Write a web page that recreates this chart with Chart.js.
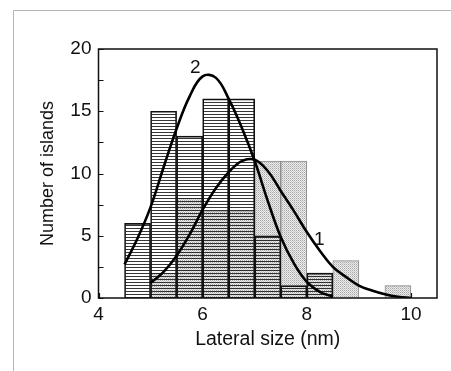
<!DOCTYPE html>
<html>
<head>
<meta charset="utf-8">
<script src="https://cdn.jsdelivr.net/npm/chart.js@4/dist/chart.umd.min.js"></script>
<style>
  html, body { margin: 0; padding: 0; background: #fff; }
  #wrap { width: 451px; height: 371px; }
</style>
</head>
<body>
<div id="wrap"><canvas id="islandsChart" width="451" height="371"></canvas></div>
<script>
// histogram bins (0.5 nm wide), given by their centres
var binCenters = [4.75, 5.25, 5.75, 6.25, 6.75, 7.25, 7.75, 8.25, 8.75, 9.25, 9.75];
var islands1 = [0, 2, 8, 7, 7, 11, 11, 2, 3, 0, 1];     // sample 1, dotted bars
var islands2 = [6, 15, 13, 16, 16, 5, 1, 2, 0, 0, 0];   // sample 2, hatched bars

// fitted distributions
var fit1X = [5.0, 5.25, 5.5, 5.75, 6.0, 6.25, 6.5, 6.75, 7.0, 7.25, 7.5, 7.75, 8.0, 8.25, 8.5, 8.75, 9.0, 9.25, 9.5, 9.75, 10.0];
var fit1Y = [1.2, 2.1, 3.4, 5.1, 7.1, 8.8, 10.1, 11.0, 11.1, 10.2, 8.6, 7.0, 5.3, 3.8, 2.5, 1.7, 1.0, 0.6, 0.3, 0.1, 0.0];
var fit2X = [4.5, 4.75, 5.0, 5.25, 5.5, 5.75, 6.0, 6.25, 6.5, 6.75, 7.0, 7.25, 7.5, 7.75, 8.0, 8.25, 8.5];
var fit2Y = [2.7, 4.8, 7.3, 10.5, 13.6, 16.2, 17.8, 17.7, 16.0, 13.7, 11.0, 7.8, 4.9, 2.8, 1.3, 0.5, 0.1];

var xTicks = [4, 6, 8, 10];
var yTicks = [0, 5, 10, 15, 20];
var yMinorTicks = [2.5, 7.5, 12.5, 17.5];

var curveLabels = [
    { text: "2", x: 5.86, y: 18.5 },
    { text: "1", x: 8.24, y: 4.7 }
];

var FONT = "'Liberation Sans', Arial, sans-serif";

function makeHatch() {
    var c = document.createElement('canvas');
    c.width = 3; c.height = 3;
    var g = c.getContext('2d');
    g.fillStyle = 'rgba(20,20,20,0.85)';
    g.fillRect(0, 0, 3, 1);
    return g.createPattern(c, 'repeat');
}

function makeDots() {
    var c = document.createElement('canvas');
    c.width = 2; c.height = 2;
    var g = c.getContext('2d');
    g.fillStyle = '#ececec';
    g.fillRect(0, 0, 2, 2);
    g.fillStyle = '#a8a8a8';
    g.fillRect(0, 0, 1, 1);
    g.fillStyle = '#c8c8c8';
    g.fillRect(1, 1, 1, 1);
    return g.createPattern(c, 'repeat');
}

// bars with no islands are left out instead of drawn flat
function toPoints(xs, ys, skipZero) {
    var pts = [];
    for (var i = 0; i < xs.length; ++i) {
        pts.push({ x: xs[i], y: (skipZero && ys[i] === 0) ? null : ys[i] });
    }
    return pts;
}

var decorations = {
    id: 'decorations',
    beforeDraw: function(chart) {
        var ctx = chart.ctx;
        // thin border of the original figure
        ctx.save();
        ctx.strokeStyle = '#b4b4b4';
        ctx.lineWidth = 1;
        ctx.beginPath();
        ctx.moveTo(451, 10.5);
        ctx.lineTo(13.5, 10.5);
        ctx.lineTo(13.5, 371);
        ctx.stroke();
        ctx.restore();
    },
    afterDraw: function(chart) {
        var ctx = chart.ctx;
        var a = chart.chartArea;
        var xs = chart.scales.x, ys = chart.scales.y;
        ctx.save();
        ctx.strokeStyle = '#111';
        ctx.lineWidth = 1.5;
        ctx.strokeRect(a.left, a.top, a.right - a.left, a.bottom - a.top);

        ctx.lineWidth = 1.2;
        ctx.beginPath();
        yTicks.concat(yMinorTicks).forEach(function(v) {
            var py = Math.round(ys.getPixelForValue(v)) + 0.5;
            ctx.moveTo(a.left, py);
            ctx.lineTo(a.left + 5, py);
        });
        xTicks.forEach(function(v) {
            var px = Math.round(xs.getPixelForValue(v)) + 0.5;
            ctx.moveTo(px, a.bottom);
            ctx.lineTo(px, a.bottom - 5);
        });
        ctx.stroke();

        ctx.fillStyle = '#111';
        ctx.font = '19px ' + FONT;
        ctx.textAlign = 'center';
        ctx.textBaseline = 'middle';
        curveLabels.forEach(function(l) {
            ctx.fillText(l.text, xs.getPixelForValue(l.x), ys.getPixelForValue(l.y));
        });
        ctx.restore();
    }
};

var ctx = document.getElementById('islandsChart').getContext('2d');

var islandsChart = new Chart(ctx, {
    type: 'bar',
    data: {
        datasets: [
            {
                type: 'line',
                label: 'fit 2',
                data: toPoints(fit2X, fit2Y),
                borderColor: '#000',
                borderWidth: 2.6,
                pointRadius: 0,
                fill: false,
                tension: 0.4,
                order: 0
            },
            {
                type: 'line',
                label: 'fit 1',
                data: toPoints(fit1X, fit1Y),
                borderColor: '#000',
                borderWidth: 2.6,
                pointRadius: 0,
                fill: false,
                tension: 0.4,
                order: 0
            },
            {
                label: 'sample 2',
                data: toPoints(binCenters, islands2, true),
                backgroundColor: makeHatch(),
                borderColor: '#111',
                borderWidth: 1,
                grouped: false,
                barPercentage: 1,
                categoryPercentage: 1,
                order: 1
            },
            {
                label: 'sample 1',
                data: toPoints(binCenters, islands1, true),
                backgroundColor: makeDots(),
                borderColor: '#8a8a8a',
                borderWidth: 1,
                grouped: false,
                barPercentage: 1,
                categoryPercentage: 1,
                order: 2
            }
        ]
    },
    options: {
        responsive: false,
        animation: false,
        events: [],
        layout: {
            padding: { top: 49, right: 14, bottom: 20, left: 37 }
        },
        plugins: {
            legend: { display: false },
            tooltip: { enabled: false }
        },
        scales: {
            x: {
                type: 'linear',
                offset: false,
                min: 4,
                max: 10.5,
                grid: { display: false, drawTicks: false },
                border: { display: false },
                afterBuildTicks: function(scale) {
                    scale.ticks = xTicks.map(function(v) { return { value: v }; });
                },
                afterFit: function(scale) { scale.height = 53; },
                ticks: {
                    color: '#111',
                    padding: 5,
                    maxRotation: 0,
                    font: { family: FONT, size: 19 }
                },
                title: {
                    display: true,
                    text: 'Lateral size (nm)',
                    color: '#111',
                    padding: { top: 0, bottom: 0 },
                    font: { family: FONT, size: 19.5 }
                }
            },
            y: {
                min: 0,
                max: 20,
                grid: { display: false, drawTicks: false },
                border: { display: false },
                afterBuildTicks: function(scale) {
                    scale.ticks = yTicks.map(function(v) { return { value: v }; });
                },
                afterFit: function(scale) { scale.width = 61.5; },
                ticks: {
                    color: '#111',
                    padding: 7,
                    font: { family: FONT, size: 19 }
                },
                title: {
                    display: true,
                    text: 'Number of islands',
                    color: '#111',
                    padding: { top: 0, bottom: 0 },
                    font: { family: FONT, size: 18 }
                }
            }
        }
    },
    plugins: [decorations]
});
</script>
</body>
</html>
